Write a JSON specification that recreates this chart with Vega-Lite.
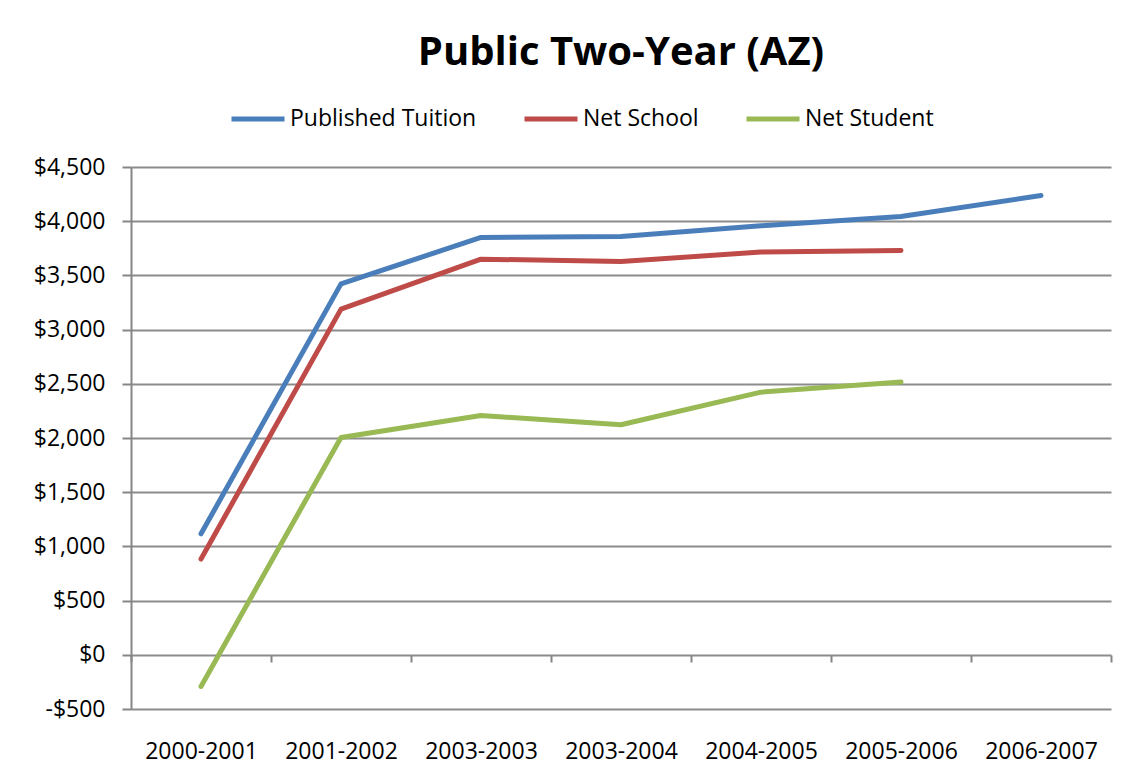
{
  "$schema": "https://vega.github.io/schema/vega-lite/v6.json",
  "autosize": "none",
  "width": 980,
  "height": 542,
  "padding": {"left": 131, "top": 167, "right": 37, "bottom": 73},
  "background": "white",
  "title": {
    "text": "Public Two-Year (AZ)",
    "font": "Open Sans",
    "fontSize": 40,
    "fontWeight": "bold",
    "color": "#000000",
    "anchor": "middle",
    "offset": 17
  },
  "data": {
    "values": [
      {"year": "2000-2001", "series": "Published Tuition", "value": 1116},
      {"year": "2001-2002", "series": "Published Tuition", "value": 3422},
      {"year": "2003-2003", "series": "Published Tuition", "value": 3850},
      {"year": "2003-2004", "series": "Published Tuition", "value": 3859},
      {"year": "2004-2005", "series": "Published Tuition", "value": 3958},
      {"year": "2005-2006", "series": "Published Tuition", "value": 4044},
      {"year": "2006-2007", "series": "Published Tuition", "value": 4237},
      {"year": "2000-2001", "series": "Net School", "value": 883},
      {"year": "2001-2002", "series": "Net School", "value": 3189},
      {"year": "2003-2003", "series": "Net School", "value": 3650},
      {"year": "2003-2004", "series": "Net School", "value": 3628},
      {"year": "2004-2005", "series": "Net School", "value": 3715},
      {"year": "2005-2006", "series": "Net School", "value": 3730},
      {"year": "2000-2001", "series": "Net Student", "value": -292},
      {"year": "2001-2002", "series": "Net Student", "value": 2005},
      {"year": "2003-2003", "series": "Net Student", "value": 2208},
      {"year": "2003-2004", "series": "Net Student", "value": 2122},
      {"year": "2004-2005", "series": "Net Student", "value": 2423},
      {"year": "2005-2006", "series": "Net Student", "value": 2516}
    ]
  },
  "mark": {"type": "line", "strokeWidth": 5, "strokeCap": "round", "strokeJoin": "round"},
  "encoding": {
    "x": {
      "field": "year",
      "type": "nominal",
      "sort": ["2000-2001", "2001-2002", "2003-2003", "2003-2004", "2004-2005", "2005-2006", "2006-2007"],
      "scale": {"type": "band", "paddingInner": 0, "paddingOuter": 0},
      "axis": {
        "title": null,
        "orient": "bottom",
        "offset": -54,
        "domain": false,
        "ticks": true,
        "tickBand": "extent",
        "tickSize": 7,
        "tickColor": "#868686",
        "tickWidth": 2,
        "labelPadding": 78,
        "labelAngle": 0,
        "labelFont": "Open Sans",
        "labelFontSize": 23,
        "labelColor": "#000000",
        "grid": false
      }
    },
    "y": {
      "field": "value",
      "type": "quantitative",
      "scale": {"domain": [-500, 4500], "nice": false, "zero": false},
      "axis": {
        "title": null,
        "values": [-500, 0, 500, 1000, 1500, 2000, 2500, 3000, 3500, 4000, 4500],
        "labelExpr": "datum.value < 0 ? '-$' + format(-datum.value, ',') : '$' + format(datum.value, ',')",
        "domain": true,
        "domainColor": "#868686",
        "domainWidth": 2,
        "ticks": true,
        "tickSize": 9,
        "tickColor": "#868686",
        "tickWidth": 2,
        "labelPadding": 17,
        "labelFont": "Open Sans",
        "labelFontSize": 23,
        "labelColor": "#000000",
        "grid": true,
        "gridColor": "#8c8c8c",
        "gridWidth": 2
      }
    },
    "color": {
      "field": "series",
      "type": "nominal",
      "scale": {
        "domain": ["Published Tuition", "Net School", "Net Student"],
        "range": ["#4A7EBB", "#BE4B48", "#98B954"]
      },
      "legend": {
        "title": null,
        "orient": "none",
        "direction": "horizontal",
        "legendX": 98,
        "legendY": -77,
        "symbolType": "stroke",
        "symbolSize": 2809,
        "symbolStrokeWidth": 5,
        "labelOffset": 3,
        "labelLimit": 400,
        "columnPadding": 37,
        "labelFont": "Open Sans",
        "labelFontSize": 23,
        "labelColor": "#000000",
        "padding": 0
      }
    }
  },
  "config": {
    "view": {"stroke": null}
  }
}
